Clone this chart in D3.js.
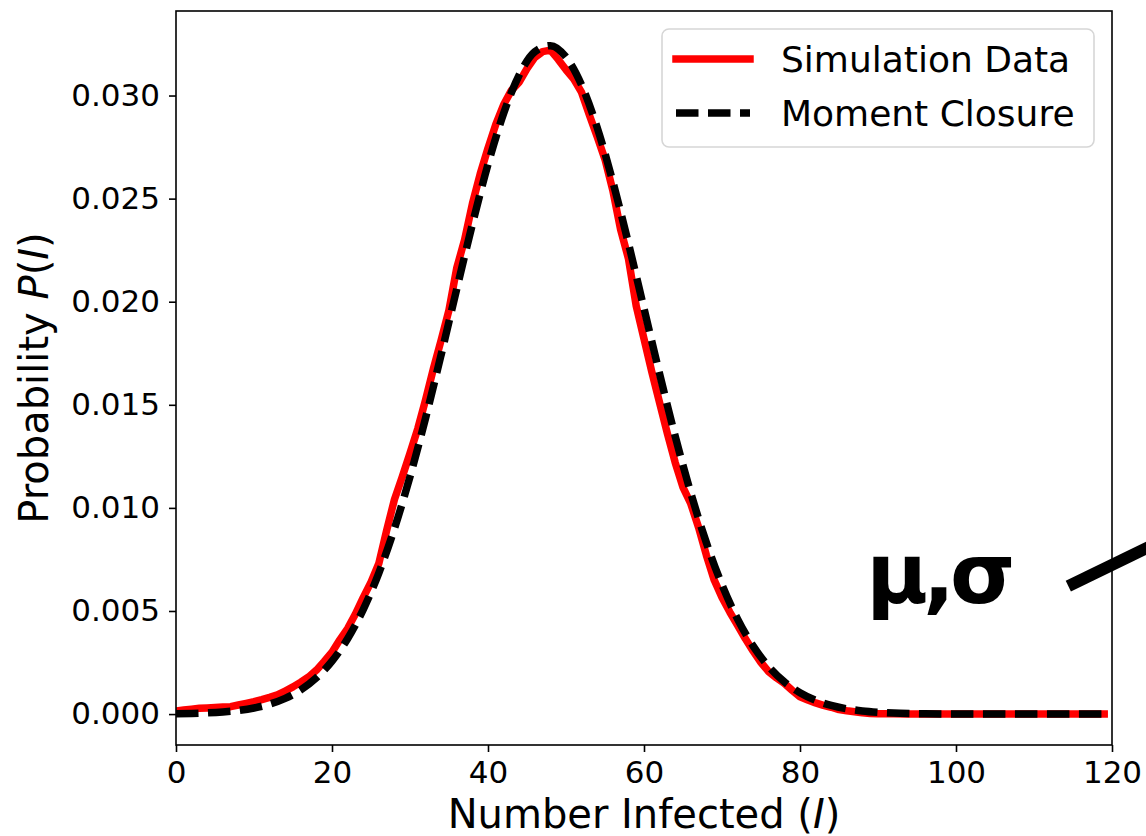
<!DOCTYPE html>
<html>
<head>
<meta charset="utf-8">
<script src="https://cdn.jsdelivr.net/npm/d3@7"></script>
<style>
  html, body { margin: 0; padding: 0; background: #fff; }
  svg { display: block; font-family: "DejaVu Sans", sans-serif; }
</style>
</head>
<body>
<svg id="chart" width="1146" height="836"></svg>
<script>
// ---- data ----
const simI = [0,1,2,3,4,5,6,7,8,9,10,11,12,13,14,15,16,17,18,19,20,21,22,23,24,25,26,27,28,29,30,31,32,33,34,35,36,37,38,39,40,41,42,43,44,45,46,47,48,49,50,51,52,53,54,55,56,57,58,59,60,61,62,63,64,65,66,67,68,69,70,71,72,73,74,75,76,77,78,79,80,81,82,83,84,85,86,87,88,89,90,92,94,96,98,100,104,108,112,116,119];
const simP = [0.00015,0.00020,0.00024,0.00028,0.00030,0.00032,0.00034,0.00036,0.00044,0.00052,0.00060,0.00070,0.00081,0.00093,0.00112,0.00132,0.00155,0.00180,0.00213,0.00255,0.00300,0.00360,0.00415,0.00485,0.00565,0.00640,0.00730,0.00890,0.01040,0.01150,0.01265,0.01385,0.01525,0.01675,0.01815,0.01960,0.02165,0.02300,0.02475,0.02620,0.02745,0.02860,0.02955,0.03025,0.03065,0.03130,0.03185,0.03213,0.03220,0.03175,0.03125,0.03080,0.03015,0.02905,0.02800,0.02690,0.02540,0.02350,0.02210,0.01980,0.01820,0.01660,0.01510,0.01360,0.01220,0.01100,0.01020,0.00905,0.00770,0.00650,0.00565,0.00495,0.00430,0.00365,0.00305,0.00250,0.00205,0.00175,0.00149,0.00115,0.00084,0.00068,0.00054,0.00042,0.00033,0.00022,0.00016,0.00011,0.00006,0.00003,0.00002,0.00001,0,0,0,0,0,0,0,0,0];

const mcI = [0,2,4,6,8,10,12,14,16,18,20,22,24,26,28,30,32,34,36,38,40,42,44,46,48,50,52,54,56,58,60,62,64,66,68,70,72,74,76,78,80,82,84,86,88,90,92,94,96,98,100,110,119];
const mcP = [0.000018,0.000033,0.000059,0.000104,0.000177,0.000296,0.000481,0.000760,0.001171,0.001758,0.002569,0.003655,0.005067,0.006840,0.008993,0.011515,0.014361,0.017440,0.020630,0.023762,0.026660,0.029128,0.030996,0.032122,0.032420,0.031868,0.030508,0.028443,0.025826,0.022839,0.019670,0.016498,0.013477,0.010722,0.008308,0.006269,0.004607,0.003297,0.002298,0.001561,0.001032,0.000665,0.000417,0.000255,0.000151,0.000088,0.000049,0.000027,0.000014,0.000007,0.000003,0,0];

const xTicks = [0,20,40,60,80,100,120];
const yTicks = [0.000,0.005,0.010,0.015,0.020,0.025,0.030];
const seriesNames = ["Simulation Data", "Moment Closure"];
const annotText = "μ,σ";
const annotPos = [88.5, 0.00538];          // data coords of annotation text start
const annotLine = [[114.4, 0.00621],[125.0, 0.00815]];

// ---- layout ----
const svg = d3.select("#chart");
const L = 176, R = 1112, T = 11, B = 745;

const x = d3.scaleLinear().domain([0, 120]).range([L, R]);
const y = d3.scaleLinear().domain([-0.0015, 0.0341]).range([B, T]);

svg.append("defs").append("clipPath").attr("id", "clip")
  .append("rect").attr("x", L).attr("y", T).attr("width", R - L).attr("height", B - T);

const line = d3.line().x(d => x(d[0])).y(d => y(d[1])).curve(d3.curveLinear);
const lineSmooth = d3.line().x(d => x(d[0])).y(d => y(d[1])).curve(d3.curveMonotoneX);

const simData = simI.map((v, i) => [v, simP[i]]);
const mcData = mcI.map((v, i) => [v, mcP[i]]);

const g = svg.append("g").attr("clip-path", "url(#clip)");
g.append("path").datum(simData).attr("d", line)
  .attr("fill", "none").attr("stroke", "#ff0000").attr("stroke-width", 7.5)
  .attr("stroke-linejoin", "round").attr("stroke-linecap", "square");
g.append("path").datum(mcData).attr("d", lineSmooth)
  .attr("fill", "none").attr("stroke", "#000").attr("stroke-width", 7.5)
  .attr("stroke-dasharray", "22.5,9.5").attr("stroke-linecap", "butt");

// axes
const xAxis = d3.axisBottom(x).tickValues(xTicks).tickSize(7).tickPadding(9).tickFormat(d3.format("d"));
const yAxis = d3.axisLeft(y).tickValues(yTicks).tickSize(7).tickPadding(9).tickFormat(d3.format(".3f"));

const gx = svg.append("g").attr("transform", `translate(0,${B})`).call(xAxis);
const gy = svg.append("g").attr("transform", `translate(${L},0)`).call(yAxis);
[gx, gy].forEach(a => {
  a.select(".domain").remove();
  a.selectAll(".tick line").attr("stroke", "#000").attr("stroke-width", 1.6);
  a.selectAll(".tick text").attr("fill", "#000").style("font-size", "31px").style("font-family", "DejaVu Sans");
});

// spines
svg.append("rect").attr("x", L).attr("y", T).attr("width", R - L).attr("height", B - T)
  .attr("fill", "none").attr("stroke", "#000").attr("stroke-width", 1.6);

// axis labels
const xl = svg.append("text").attr("x", (L + R) / 2).attr("y", 828)
  .attr("text-anchor", "middle").style("font-size", "40px").attr("fill", "#000");
xl.append("tspan").text("Number Infected (");
xl.append("tspan").attr("font-style", "italic").text("I");
xl.append("tspan").text(")");

const yl = svg.append("text").attr("transform", `translate(48,${(T + B) / 2}) rotate(-90)`)
  .attr("text-anchor", "middle").style("font-size", "40px").attr("fill", "#000");
yl.append("tspan").text("Probability ");
yl.append("tspan").attr("font-style", "italic").text("P");
yl.append("tspan").text("(");
yl.append("tspan").attr("font-style", "italic").text("I");
yl.append("tspan").text(")");

// legend
const lg = svg.append("g");
lg.append("rect").attr("x", 662).attr("y", 29).attr("width", 432).attr("height", 118)
  .attr("rx", 7).attr("fill", "#fff").attr("fill-opacity", 0.8)
  .attr("stroke", "#d6d6d6").attr("stroke-width", 1.6);
const legY = [59, 113];
lg.append("line").attr("x1", 676).attr("x2", 750).attr("y1", legY[0]).attr("y2", legY[0])
  .attr("stroke", "#ff0000").attr("stroke-width", 7.5).attr("stroke-linecap", "square");
lg.append("line").attr("x1", 676).attr("x2", 750).attr("y1", legY[1]).attr("y2", legY[1])
  .attr("stroke", "#000").attr("stroke-width", 7.5).attr("stroke-dasharray", "22.5,9.5");
seriesNames.forEach((n, i) => {
  lg.append("text").attr("x", 781).attr("y", legY[i] + 13).style("font-size", "36px")
    .attr("fill", "#000").text(n);
});

// annotation
svg.append("text").attr("x", x(annotPos[0])).attr("y", y(annotPos[1]))
  .style("font-size", "84px").style("font-weight", "bold").style("letter-spacing", "-5px")
  .attr("fill", "#000").text(annotText);
svg.append("line").attr("x1", x(annotLine[0][0])).attr("y1", y(annotLine[0][1]))
  .attr("x2", x(annotLine[1][0])).attr("y2", y(annotLine[1][1]))
  .attr("stroke", "#000").attr("stroke-width", 12);
</script>
</body>
</html>
